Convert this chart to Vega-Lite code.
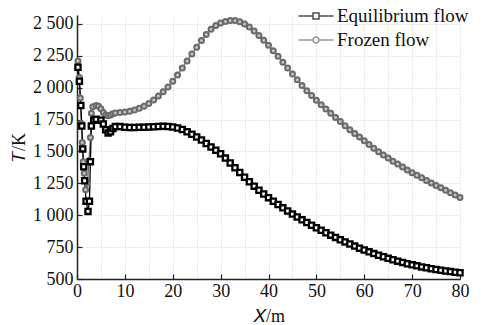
{
  "$schema": "https://vega.github.io/schema/vega-lite/v6.json",
  "autosize": "none",
  "width": 383,
  "height": 264,
  "padding": {"left": 77, "top": 15, "right": 21, "bottom": 46},
  "background": "white",
  "config": {
    "view": {"stroke": null},
    "font": "Liberation Serif",
    "axis": {
      "labelFont": "Liberation Serif",
      "titleFont": "Liberation Serif",
      "labelFontSize": 18,
      "titleFontSize": 18,
      "titleFontWeight": "normal",
      "labelColor": "#111",
      "titleColor": "#111",
      "domainColor": "#222",
      "domainWidth": 1.5,
      "tickColor": "#222",
      "tickWidth": 1.2,
      "gridColor": "#cfcfcf",
      "gridDash": [1, 2],
      "gridWidth": 1
    },
    "legend": {
      "labelFont": "Liberation Serif",
      "labelFontSize": 19,
      "labelColor": "#111",
      "labelLimit": 300
    }
  },
  "data": {
    "values": [
      {"x": 0.2, "T": 2160, "s": "Equilibrium flow"},
      {"x": 0.5, "T": 2050, "s": "Equilibrium flow"},
      {"x": 0.8, "T": 1860, "s": "Equilibrium flow"},
      {"x": 1.0, "T": 1700, "s": "Equilibrium flow"},
      {"x": 1.2, "T": 1520, "s": "Equilibrium flow"},
      {"x": 1.4, "T": 1380, "s": "Equilibrium flow"},
      {"x": 1.6, "T": 1270, "s": "Equilibrium flow"},
      {"x": 1.9, "T": 1110, "s": "Equilibrium flow"},
      {"x": 2.3, "T": 1030, "s": "Equilibrium flow"},
      {"x": 2.6, "T": 1110, "s": "Equilibrium flow"},
      {"x": 2.8, "T": 1420, "s": "Equilibrium flow"},
      {"x": 3.0, "T": 1700, "s": "Equilibrium flow"},
      {"x": 3.5, "T": 1745, "s": "Equilibrium flow"},
      {"x": 4, "T": 1752, "s": "Equilibrium flow"},
      {"x": 5, "T": 1745, "s": "Equilibrium flow"},
      {"x": 5.5, "T": 1715, "s": "Equilibrium flow"},
      {"x": 6, "T": 1670, "s": "Equilibrium flow"},
      {"x": 6.5, "T": 1645, "s": "Equilibrium flow"},
      {"x": 7, "T": 1655, "s": "Equilibrium flow"},
      {"x": 7.5, "T": 1680, "s": "Equilibrium flow"},
      {"x": 8, "T": 1695, "s": "Equilibrium flow"},
      {"x": 9, "T": 1695, "s": "Equilibrium flow"},
      {"x": 10, "T": 1690, "s": "Equilibrium flow"},
      {"x": 11, "T": 1688, "s": "Equilibrium flow"},
      {"x": 12, "T": 1688, "s": "Equilibrium flow"},
      {"x": 13, "T": 1689, "s": "Equilibrium flow"},
      {"x": 14, "T": 1690, "s": "Equilibrium flow"},
      {"x": 15, "T": 1692, "s": "Equilibrium flow"},
      {"x": 16, "T": 1694, "s": "Equilibrium flow"},
      {"x": 17, "T": 1696, "s": "Equilibrium flow"},
      {"x": 18, "T": 1697, "s": "Equilibrium flow"},
      {"x": 19, "T": 1696, "s": "Equilibrium flow"},
      {"x": 20, "T": 1692, "s": "Equilibrium flow"},
      {"x": 21, "T": 1684, "s": "Equilibrium flow"},
      {"x": 22, "T": 1672, "s": "Equilibrium flow"},
      {"x": 23, "T": 1655, "s": "Equilibrium flow"},
      {"x": 24, "T": 1635, "s": "Equilibrium flow"},
      {"x": 25, "T": 1613, "s": "Equilibrium flow"},
      {"x": 26, "T": 1590, "s": "Equilibrium flow"},
      {"x": 27, "T": 1563, "s": "Equilibrium flow"},
      {"x": 28, "T": 1535, "s": "Equilibrium flow"},
      {"x": 29, "T": 1510, "s": "Equilibrium flow"},
      {"x": 30, "T": 1482, "s": "Equilibrium flow"},
      {"x": 31, "T": 1448, "s": "Equilibrium flow"},
      {"x": 32, "T": 1410, "s": "Equilibrium flow"},
      {"x": 33, "T": 1372, "s": "Equilibrium flow"},
      {"x": 34, "T": 1335, "s": "Equilibrium flow"},
      {"x": 35, "T": 1298, "s": "Equilibrium flow"},
      {"x": 36, "T": 1262, "s": "Equilibrium flow"},
      {"x": 37, "T": 1228, "s": "Equilibrium flow"},
      {"x": 38, "T": 1196, "s": "Equilibrium flow"},
      {"x": 39, "T": 1166, "s": "Equilibrium flow"},
      {"x": 40, "T": 1138, "s": "Equilibrium flow"},
      {"x": 41, "T": 1110, "s": "Equilibrium flow"},
      {"x": 42, "T": 1084, "s": "Equilibrium flow"},
      {"x": 43, "T": 1058, "s": "Equilibrium flow"},
      {"x": 44, "T": 1033, "s": "Equilibrium flow"},
      {"x": 45, "T": 1009, "s": "Equilibrium flow"},
      {"x": 46, "T": 986, "s": "Equilibrium flow"},
      {"x": 47, "T": 964, "s": "Equilibrium flow"},
      {"x": 48, "T": 943, "s": "Equilibrium flow"},
      {"x": 49, "T": 922, "s": "Equilibrium flow"},
      {"x": 50, "T": 902, "s": "Equilibrium flow"},
      {"x": 51, "T": 882, "s": "Equilibrium flow"},
      {"x": 52, "T": 863, "s": "Equilibrium flow"},
      {"x": 53, "T": 844, "s": "Equilibrium flow"},
      {"x": 54, "T": 826, "s": "Equilibrium flow"},
      {"x": 55, "T": 808, "s": "Equilibrium flow"},
      {"x": 56, "T": 791, "s": "Equilibrium flow"},
      {"x": 57, "T": 774, "s": "Equilibrium flow"},
      {"x": 58, "T": 758, "s": "Equilibrium flow"},
      {"x": 59, "T": 742, "s": "Equilibrium flow"},
      {"x": 60, "T": 727, "s": "Equilibrium flow"},
      {"x": 61, "T": 713, "s": "Equilibrium flow"},
      {"x": 62, "T": 699, "s": "Equilibrium flow"},
      {"x": 63, "T": 686, "s": "Equilibrium flow"},
      {"x": 64, "T": 674, "s": "Equilibrium flow"},
      {"x": 65, "T": 662, "s": "Equilibrium flow"},
      {"x": 66, "T": 651, "s": "Equilibrium flow"},
      {"x": 67, "T": 640, "s": "Equilibrium flow"},
      {"x": 68, "T": 630, "s": "Equilibrium flow"},
      {"x": 69, "T": 620, "s": "Equilibrium flow"},
      {"x": 70, "T": 611, "s": "Equilibrium flow"},
      {"x": 71, "T": 603, "s": "Equilibrium flow"},
      {"x": 72, "T": 595, "s": "Equilibrium flow"},
      {"x": 73, "T": 588, "s": "Equilibrium flow"},
      {"x": 74, "T": 581, "s": "Equilibrium flow"},
      {"x": 75, "T": 575, "s": "Equilibrium flow"},
      {"x": 76, "T": 569, "s": "Equilibrium flow"},
      {"x": 77, "T": 563, "s": "Equilibrium flow"},
      {"x": 78, "T": 558, "s": "Equilibrium flow"},
      {"x": 79, "T": 553, "s": "Equilibrium flow"},
      {"x": 80, "T": 549, "s": "Equilibrium flow"},
      {"x": 0.2, "T": 2210, "s": "Frozen flow"},
      {"x": 0.5, "T": 2080, "s": "Frozen flow"},
      {"x": 0.7, "T": 1920, "s": "Frozen flow"},
      {"x": 0.9, "T": 1720, "s": "Frozen flow"},
      {"x": 1.1, "T": 1570, "s": "Frozen flow"},
      {"x": 1.3, "T": 1420, "s": "Frozen flow"},
      {"x": 1.5, "T": 1330, "s": "Frozen flow"},
      {"x": 1.8, "T": 1200, "s": "Frozen flow"},
      {"x": 2.2, "T": 1250, "s": "Frozen flow"},
      {"x": 2.5, "T": 1430, "s": "Frozen flow"},
      {"x": 2.8, "T": 1610, "s": "Frozen flow"},
      {"x": 3.0, "T": 1800, "s": "Frozen flow"},
      {"x": 3.3, "T": 1850, "s": "Frozen flow"},
      {"x": 4, "T": 1860, "s": "Frozen flow"},
      {"x": 4.5, "T": 1855, "s": "Frozen flow"},
      {"x": 5, "T": 1835, "s": "Frozen flow"},
      {"x": 5.5, "T": 1805, "s": "Frozen flow"},
      {"x": 6, "T": 1785, "s": "Frozen flow"},
      {"x": 6.5, "T": 1780, "s": "Frozen flow"},
      {"x": 7, "T": 1785, "s": "Frozen flow"},
      {"x": 7.5, "T": 1795, "s": "Frozen flow"},
      {"x": 8, "T": 1802, "s": "Frozen flow"},
      {"x": 9, "T": 1805, "s": "Frozen flow"},
      {"x": 10, "T": 1810, "s": "Frozen flow"},
      {"x": 11, "T": 1815, "s": "Frozen flow"},
      {"x": 12, "T": 1825, "s": "Frozen flow"},
      {"x": 13, "T": 1838, "s": "Frozen flow"},
      {"x": 14, "T": 1855, "s": "Frozen flow"},
      {"x": 15, "T": 1877, "s": "Frozen flow"},
      {"x": 16, "T": 1903, "s": "Frozen flow"},
      {"x": 17, "T": 1935, "s": "Frozen flow"},
      {"x": 18, "T": 1968, "s": "Frozen flow"},
      {"x": 19, "T": 2005, "s": "Frozen flow"},
      {"x": 20, "T": 2050, "s": "Frozen flow"},
      {"x": 21, "T": 2100, "s": "Frozen flow"},
      {"x": 22, "T": 2155, "s": "Frozen flow"},
      {"x": 23, "T": 2210, "s": "Frozen flow"},
      {"x": 24, "T": 2265, "s": "Frozen flow"},
      {"x": 25, "T": 2318, "s": "Frozen flow"},
      {"x": 26, "T": 2370, "s": "Frozen flow"},
      {"x": 27, "T": 2418, "s": "Frozen flow"},
      {"x": 28, "T": 2458, "s": "Frozen flow"},
      {"x": 29, "T": 2488, "s": "Frozen flow"},
      {"x": 30, "T": 2508, "s": "Frozen flow"},
      {"x": 31, "T": 2520, "s": "Frozen flow"},
      {"x": 32, "T": 2527, "s": "Frozen flow"},
      {"x": 33, "T": 2527, "s": "Frozen flow"},
      {"x": 34, "T": 2518, "s": "Frozen flow"},
      {"x": 35, "T": 2500, "s": "Frozen flow"},
      {"x": 36, "T": 2475, "s": "Frozen flow"},
      {"x": 37, "T": 2445, "s": "Frozen flow"},
      {"x": 38, "T": 2410, "s": "Frozen flow"},
      {"x": 39, "T": 2372, "s": "Frozen flow"},
      {"x": 40, "T": 2332, "s": "Frozen flow"},
      {"x": 41, "T": 2290, "s": "Frozen flow"},
      {"x": 42, "T": 2246, "s": "Frozen flow"},
      {"x": 43, "T": 2200, "s": "Frozen flow"},
      {"x": 44, "T": 2154, "s": "Frozen flow"},
      {"x": 45, "T": 2108, "s": "Frozen flow"},
      {"x": 46, "T": 2063, "s": "Frozen flow"},
      {"x": 47, "T": 2018, "s": "Frozen flow"},
      {"x": 48, "T": 1976, "s": "Frozen flow"},
      {"x": 49, "T": 1938, "s": "Frozen flow"},
      {"x": 50, "T": 1902, "s": "Frozen flow"},
      {"x": 51, "T": 1867, "s": "Frozen flow"},
      {"x": 52, "T": 1833, "s": "Frozen flow"},
      {"x": 53, "T": 1799, "s": "Frozen flow"},
      {"x": 54, "T": 1766, "s": "Frozen flow"},
      {"x": 55, "T": 1734, "s": "Frozen flow"},
      {"x": 56, "T": 1702, "s": "Frozen flow"},
      {"x": 57, "T": 1671, "s": "Frozen flow"},
      {"x": 58, "T": 1641, "s": "Frozen flow"},
      {"x": 59, "T": 1613, "s": "Frozen flow"},
      {"x": 60, "T": 1584, "s": "Frozen flow"},
      {"x": 61, "T": 1555, "s": "Frozen flow"},
      {"x": 62, "T": 1526, "s": "Frozen flow"},
      {"x": 63, "T": 1497, "s": "Frozen flow"},
      {"x": 64, "T": 1472, "s": "Frozen flow"},
      {"x": 65, "T": 1448, "s": "Frozen flow"},
      {"x": 66, "T": 1424, "s": "Frozen flow"},
      {"x": 67, "T": 1401, "s": "Frozen flow"},
      {"x": 68, "T": 1378, "s": "Frozen flow"},
      {"x": 69, "T": 1355, "s": "Frozen flow"},
      {"x": 70, "T": 1334, "s": "Frozen flow"},
      {"x": 71, "T": 1313, "s": "Frozen flow"},
      {"x": 72, "T": 1293, "s": "Frozen flow"},
      {"x": 73, "T": 1273, "s": "Frozen flow"},
      {"x": 74, "T": 1253, "s": "Frozen flow"},
      {"x": 75, "T": 1234, "s": "Frozen flow"},
      {"x": 76, "T": 1215, "s": "Frozen flow"},
      {"x": 77, "T": 1196, "s": "Frozen flow"},
      {"x": 78, "T": 1177, "s": "Frozen flow"},
      {"x": 79, "T": 1158, "s": "Frozen flow"},
      {"x": 80, "T": 1140, "s": "Frozen flow"}
    ]
  },
  "encoding": {
    "x": {
      "field": "x",
      "type": "quantitative",
      "scale": {"domain": [0, 80], "nice": false},
      "axis": {
        "title": "𝑋/m",
        "values": [0, 5, 10, 15, 20, 25, 30, 35, 40, 45, 50, 55, 60, 65, 70, 75, 80],
        "labelExpr": "datum.value % 10 === 0 ? datum.label : ''",
        "tickOpacity": {"condition": {"test": "datum.value % 10 !== 0", "value": 0}, "value": 1},
        "tickSize": -5,
        "labelPadding": 8,
        "titlePadding": 7,
        "labelFlush": false,
        "labelOverlap": false
      }
    },
    "y": {
      "field": "T",
      "type": "quantitative",
      "scale": {"domain": [500, 2570], "nice": false, "zero": false},
      "axis": {
        "title": "𝑇/K",
        "values": [500, 750, 1000, 1250, 1500, 1750, 2000, 2250, 2500],
        "labelExpr": "replace(format(datum.value, ','), ',', ' ')",
        "tickSize": -5,
        "labelPadding": 9,
        "titlePadding": 4,
        "labelFlush": false,
        "labelOverlap": false
      }
    }
  },
  "layer": [
    {
      "transform": [{"filter": "datum.s === 'Frozen flow'"}],
      "mark": {"type": "line", "strokeWidth": 1.3, "color": "#6e6e6e"},
      "encoding": {}
    },
    {
      "transform": [{"filter": "datum.s === 'Equilibrium flow'"}],
      "mark": {"type": "line", "strokeWidth": 1.3, "color": "#000000"},
      "encoding": {}
    },
    {
      "transform": [{"filter": "datum.s === 'Frozen flow'"}],
      "mark": {"type": "point", "shape": "circle", "filled": true, "fill": "#c4c4c4", "stroke": "#6a6a6a", "strokeWidth": 2, "size": 25, "opacity": 1}
    },
    {
      "transform": [{"filter": "datum.s === 'Equilibrium flow'"}],
      "mark": {"type": "point", "shape": "square", "filled": true, "fill": "#ffffff", "stroke": "#000000", "strokeWidth": 2.3, "size": 27, "opacity": 1}
    },
    {
      "mark": {"type": "point", "filled": false, "strokeWidth": 1.5, "size": 0},
      "encoding": {
        "color": {
          "field": "s",
          "type": "nominal",
          "scale": {"domain": ["Equilibrium flow", "Frozen flow"], "range": ["#000000", "#6e6e6e"]},
          "legend": {
            "title": null,
            "orient": "none",
            "legendX": 225,
            "legendY": -13,
            "symbolSize": 676,
            "symbolStrokeWidth": 1.5,
            "labelFont": "Liberation Serif",
            "labelFontSize": 19,
            "labelLimit": 300,
            "labelOffset": 7,
            "rowPadding": 0,
            "encoding": {
              "labels": {"update": {"font": {"value": "Liberation Serif"}, "fontSize": {"value": 19}}}
            }
          }
        },
        "shape": {
          "field": "s",
          "type": "nominal",
          "scale": {
            "domain": ["Equilibrium flow", "Frozen flow"],
            "range": [
              "M-1.35,0H-0.23M0.23,0H1.35M-0.23,-0.23H0.23V0.23H-0.23Z",
              "M-1.35,0H-0.23M0.23,0H1.35M0.23,0A0.23,0.23 0 1,1 -0.23,0A0.23,0.23 0 1,1 0.23,0Z"
            ]
          },
          "legend": {
            "title": null,
            "orient": "none",
            "legendX": 225,
            "legendY": -13,
            "symbolSize": 676,
            "symbolStrokeWidth": 1.5,
            "labelFont": "Liberation Serif",
            "labelFontSize": 19,
            "labelLimit": 300,
            "labelOffset": 7,
            "rowPadding": 0,
            "encoding": {
              "labels": {"update": {"font": {"value": "Liberation Serif"}, "fontSize": {"value": 19}}}
            }
          }
        }
      }
    }
  ]
}
